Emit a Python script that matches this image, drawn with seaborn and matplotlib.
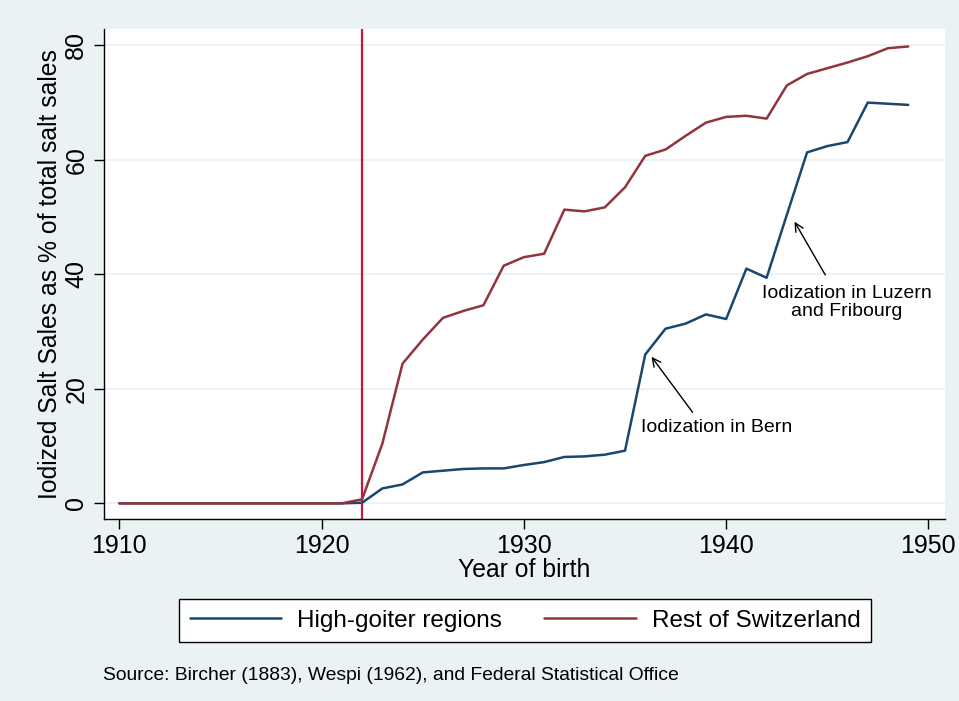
import numpy as np
import pandas as pd
import matplotlib
matplotlib.use("Agg")
import matplotlib.pyplot as plt
import seaborn as sns

years = list(range(1910, 1950))
high_goiter = [0, 0, 0, 0, 0, 0, 0, 0, 0, 0, 0, 0,
               0.1, 2.6, 3.3, 5.4, 5.7, 6.0, 6.1, 6.1, 6.7, 7.2, 8.1, 8.2, 8.5, 9.2,
               26.0, 30.5, 31.4, 33.0, 32.2, 41.0, 39.4, 50.4, 61.3, 62.4, 63.1, 70.0, 69.8, 69.6]
rest_ch = [0, 0, 0, 0, 0, 0, 0, 0, 0, 0, 0, 0,
           0.7, 10.4, 24.4, 28.6, 32.4, 33.6, 34.6, 41.5, 43.0, 43.6, 51.3, 51.0, 51.7, 55.2,
           60.7, 61.8, 64.2, 66.5, 67.5, 67.7, 67.2, 73.0, 75.0, 76.0, 77.0, 78.1, 79.5, 79.8]
series_names = ["High-goiter regions", "Rest of Switzerland"]
event_year = 1922
yticks = [0, 20, 40, 60, 80]
xticks = [1910, 1920, 1930, 1940, 1950]

df = pd.DataFrame({
    "year": years * 2,
    "value": high_goiter + rest_ch,
    "series": [series_names[0]] * len(years) + [series_names[1]] * len(years),
})

sns.set_theme(style="white")
plt.rcParams["font.family"] = ["Liberation Sans", "DejaVu Sans"]
plt.rcParams.update({"text.color": "black", "axes.labelcolor": "black",
                     "xtick.color": "black", "ytick.color": "black"})

bg = "#eaf2f3"
fig = plt.figure(figsize=(9.59, 7.01), dpi=100, facecolor=bg)
ax = fig.add_axes([0.108, 0.2596, 0.877, 0.699])
ax.set_facecolor("white")

ax.axvline(event_year, color="#d2103c", lw=1.6, zorder=1)
sns.lineplot(data=df, x="year", y="value", hue="series",
             palette={series_names[0]: "#1a476f", series_names[1]: "#90353b"},
             lw=1.8, ax=ax, legend=False, zorder=3)

ax.set_xlim(1909.22, 1950.8)
ax.set_ylim(-2.74, 82.85)
ax.set_xticks(xticks)
ax.set_yticks(yticks)
ax.yaxis.grid(True, color=bg, lw=1.3)
ax.xaxis.grid(False)
ax.set_axisbelow(True)

for s in ["top", "right"]:
    ax.spines[s].set_visible(False)
for s in ["left", "bottom"]:
    ax.spines[s].set_color("black")
    ax.spines[s].set_linewidth(1.0)

ax.tick_params(axis="both", which="major", direction="out", length=7, width=1,
               color="black", labelcolor="black", labelsize=18, pad=4, bottom=True, left=True)
for lab in ax.get_yticklabels():
    lab.set_rotation(90)
    lab.set_va("center")

ax.set_xlabel("Year of birth", fontsize=17.8, labelpad=0, color="black")
ax.set_ylabel("Iodized Salt Sales as % of total salt sales", fontsize=17.8, labelpad=1.5,
              color="black")

arrowprops = dict(arrowstyle="->", color="black", lw=1.0, mutation_scale=15,
                  shrinkA=0, shrinkB=0)
# Bern
ax.annotate("", xy=(1936.31, 25.6), xytext=(1938.34, 15.9), arrowprops=arrowprops)
ax.text(1939.55, 13.2, "Iodization in Bern", ha="center", va="center", fontsize=14,
        color="black")
# Luzern and Fribourg
ax.annotate("", xy=(1943.38, 49.2), xytext=(1944.9, 39.9), arrowprops=arrowprops)
ax.text(1945.95, 35.0, "Iodization in Luzern\nand Fribourg", ha="center", va="center",
        fontsize=14, linespacing=1.08, color="black")

handles = [plt.Line2D([], [], color="#1a476f", lw=1.8),
           plt.Line2D([], [], color="#90353b", lw=1.8)]
leg = fig.legend(handles, series_names, loc="center", bbox_to_anchor=(0.5475, 0.1148),
                 ncol=2, fontsize=17.5, frameon=True, fancybox=False,
                 edgecolor="black", facecolor="white", framealpha=1,
                 handlelength=3.75, columnspacing=1.75, borderpad=0.45, handletextpad=0.66)
leg.get_frame().set_linewidth(1.0)
for t in leg.get_texts():
    t.set_color("black")

fig.text(0.107, 0.0357, "Source: Bircher (1883), Wespi (1962), and Federal Statistical Office",
         fontsize=13.85, ha="left", va="center", color="black")

fig.savefig("out.png", dpi=100, facecolor=bg)
